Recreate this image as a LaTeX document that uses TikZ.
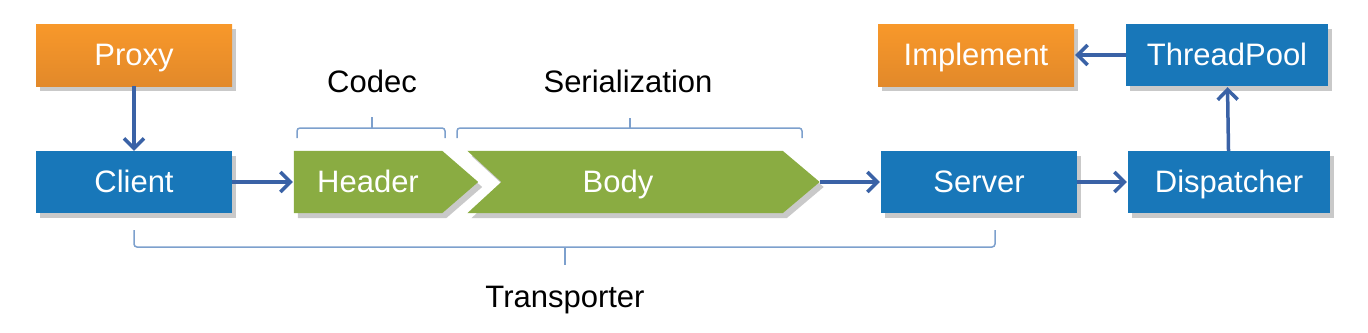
\documentclass[tikz,border=0pt]{standalone}
\usepackage{fontspec}
\setmainfont{Liberation Sans}
\usetikzlibrary{arrows.meta,shadows,backgrounds}

\definecolor{boxblue}{RGB}{24,119,185}
\definecolor{orangetop}{RGB}{248,152,42}
\definecolor{orangebot}{RGB}{226,137,42}
\definecolor{partgreen}{RGB}{138,172,66}
\definecolor{linkblue}{RGB}{58,98,166}
\definecolor{braceblue}{RGB}{125,160,205}

\tikzset{
  softshadow/.style={drop shadow={shadow xshift=4pt,shadow yshift=-5pt,opacity=.3,fill=black!70}},
  box/.style={rectangle,minimum width=196pt,minimum height=62pt,inner sep=0pt,text=white,
    font=\fontsize{31}{37}\selectfont,text height=22pt,text depth=2pt,softshadow},
  bluebox/.style={box,fill=boxblue},
  orangebox/.style={box,top color=orangetop,bottom color=orangebot},
  part/.style={rectangle,minimum height=62pt,inner sep=0pt,text=white,
    font=\fontsize{31}{37}\selectfont,text height=22pt,text depth=2pt},
  link/.style={linkblue,line width=3.5pt,-{Straight Barb[length=10pt,width=20pt]}},
  bracket/.style={braceblue,line width=1.5pt,rounded corners=3pt},
  caption/.style={font=\fontsize{31}{37}\selectfont,inner sep=0pt,anchor=base}
}

\begin{document}
\begin{tikzpicture}[x=1pt,y=-1pt]
\path[use as bounding box] (0,0) rectangle (1368,332);
% client side
\node[orangebox] (proxy) at (134,55) {Proxy};
\node[bluebox] (client) at (134,182) {Client};
% message parts
\node[part,minimum width=148pt] (header) at (368,182) {Header};
\node[part,minimum width=315pt] (body) at (625,182) {\hspace*{-14pt}Body};
\coordinate (bodytip) at ([xshift=37pt]body.east);
\begin{scope}[on background layer]
\fill[partgreen,softshadow] (header.north west) -- (header.north east) -- ([xshift=36pt]header.east)
  -- (header.south east) -- (header.south west) -- cycle;
\fill[partgreen,softshadow] (body.north west) -- (body.north east) -- (bodytip)
  -- (body.south east) -- (body.south west) -- ([xshift=34pt]body.west) -- cycle;
\end{scope}
% server side
\node[bluebox] (server) at (979,182) {Server};
\node[bluebox,minimum width=202pt] (dispatcher) at (1229,182) {Dispatcher};
\node[bluebox,minimum width=202pt] (threadpool) at (1227,55) {ThreadPool};
\node[orangebox] (implement) at (976,55) {Implement};
% flow
\draw[link] (proxy) -- (client);
\draw[link,shorten >=1pt] (client) -- (header);
\draw[link,shorten >=1pt] (bodytip) -- (server);
\draw[link,shorten >=1pt] (server) -- (dispatcher);
\draw[link,shorten >=1pt] (dispatcher) -- (threadpool);
\draw[link,shorten >=1pt] (threadpool) -- (implement);
% brackets
\draw[bracket] (297,138) -- (297,128) -- (445,128) -- (445,138);
\draw[braceblue,line width=1.5pt] (372,128) -- (372,117);
\draw[bracket] (457,138) -- (457,128) -- (802,128) -- (802,138);
\draw[braceblue,line width=1.5pt] (630,128) -- (630,118);
\draw[bracket] (134,230) -- (134,247) -- (995,247) -- (995,230);
\draw[braceblue,line width=1.5pt] (565,247) -- (565,265);
\node[caption] (codec) at (372,92) {Codec};
\node[caption] (serialization) at (628,92) {Serialization};
\node[caption] (transporter) at (565,307) {Transporter};
\end{tikzpicture}
\end{document}
